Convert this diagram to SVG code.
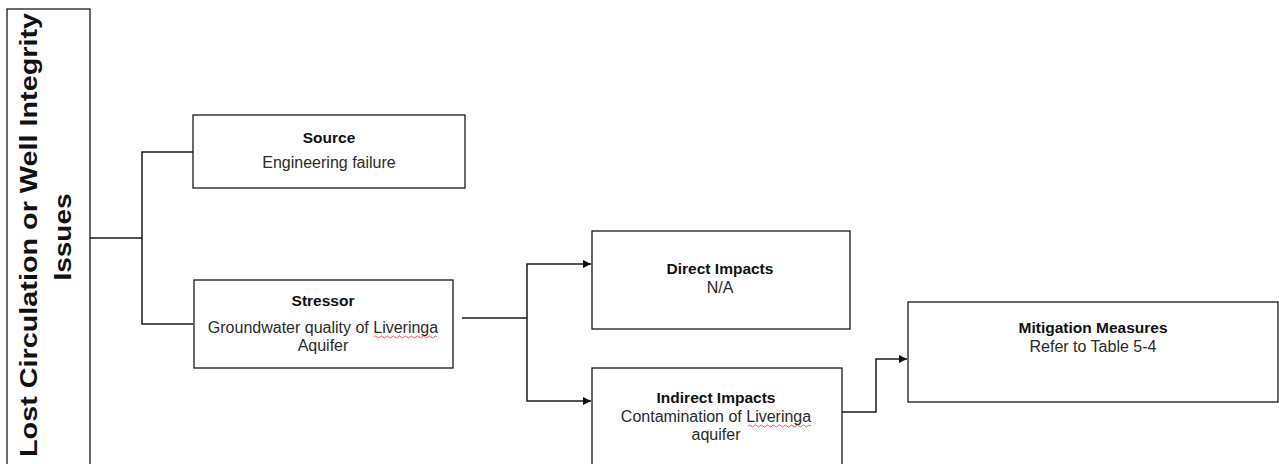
<svg xmlns="http://www.w3.org/2000/svg" width="1279" height="464" viewBox="0 0 1279 464">
  <style>
    .box { fill: #ffffff; stroke: #1a1a1a; stroke-width: 1.3; }
    .wire { fill: none; stroke: #1a1a1a; stroke-width: 1.5; }
    .title { font-family: "Liberation Sans", Arial, sans-serif; font-weight: bold; font-size: 23px; fill: #111; }
    .head { font-family: "Liberation Sans", Arial, sans-serif; font-weight: bold; font-size: 15.5px; fill: #111; }
    .body { font-family: "Liberation Sans", Arial, sans-serif; font-size: 16px; fill: #2a2a2a; }
    .spell { fill: none; stroke: #e03030; stroke-width: 0.8; }
  </style>
  <defs>
    <marker id="arrow" viewBox="0 0 10 10" refX="10" refY="5" markerWidth="8" markerHeight="8" markerUnits="userSpaceOnUse" orient="auto">
      <path d="M0,0 L10,5 L0,10 Z" fill="#111"/>
    </marker>
  </defs>

  <rect width="1279" height="464" fill="#ffffff"/>

  <!-- connectors -->
  <g id="connectors">
    <path class="wire" d="M90,238 H142"/>
    <path class="wire" d="M193,152 H142 V324 H193"/>
    <path class="wire" d="M462,318 H527"/>
    <path class="wire" d="M527,318 V264 H591" marker-end="url(#arrow)"/>
    <path class="wire" d="M527,318 V401 H591" marker-end="url(#arrow)"/>
    <path class="wire" d="M842,412 H876 V359 H907" marker-end="url(#arrow)"/>
  </g>

  <!-- root: vertical title box -->
  <g id="node-root">
    <rect class="box" x="7" y="9" width="83" height="470"/>
    <text class="title" transform="translate(37,235) rotate(-90)" text-anchor="middle" textLength="444" lengthAdjust="spacingAndGlyphs">Lost Circulation or Well Integrity</text>
    <text class="title" transform="translate(71,237) rotate(-90)" text-anchor="middle" textLength="87" lengthAdjust="spacingAndGlyphs">Issues</text>
  </g>

  <g id="node-source">
    <rect class="box" x="193" y="115" width="272" height="73"/>
    <text class="head" x="329" y="143" text-anchor="middle">Source</text>
    <text class="body" x="329" y="168" text-anchor="middle">Engineering failure</text>
  </g>

  <g id="node-stressor">
    <rect class="box" x="194" y="280" width="259" height="88"/>
    <text class="head" x="323" y="306" text-anchor="middle">Stressor</text>
    <text class="body" x="323" y="333" text-anchor="middle">Groundwater quality of Liveringa</text>
    <text class="body" x="323" y="351" text-anchor="middle">Aquifer</text>
    <path class="spell" d="M374,337 q1.5,-2 3,0 t3,0 t3,0 t3,0 t3,0 t3,0 t3,0 t3,0 t3,0 t3,0 t3,0 t3,0 t3,0 t3,0 t3,0 t3,0 t3,0 t3,0 t3,0 t3,0 t3,0"/>
  </g>

  <g id="node-direct">
    <rect class="box" x="592" y="231" width="258" height="98"/>
    <text class="head" x="720" y="274" text-anchor="middle">Direct Impacts</text>
    <text class="body" x="720" y="293" text-anchor="middle">N/A</text>
  </g>

  <g id="node-indirect">
    <rect class="box" x="592" y="368" width="250" height="110"/>
    <text class="head" x="716" y="403" text-anchor="middle">Indirect Impacts</text>
    <text class="body" x="716" y="422" text-anchor="middle">Contamination of Liveringa</text>
    <text class="body" x="716" y="440" text-anchor="middle">aquifer</text>
    <path class="spell" d="M748,426 q1.5,-2 3,0 t3,0 t3,0 t3,0 t3,0 t3,0 t3,0 t3,0 t3,0 t3,0 t3,0 t3,0 t3,0 t3,0 t3,0 t3,0 t3,0 t3,0 t3,0 t3,0 t3,0"/>
  </g>

  <g id="node-mitigation">
    <rect class="box" x="908" y="302" width="370" height="100"/>
    <text class="head" x="1093" y="333" text-anchor="middle">Mitigation Measures</text>
    <text class="body" x="1093" y="352" text-anchor="middle">Refer to Table 5-4</text>
  </g>
</svg>
